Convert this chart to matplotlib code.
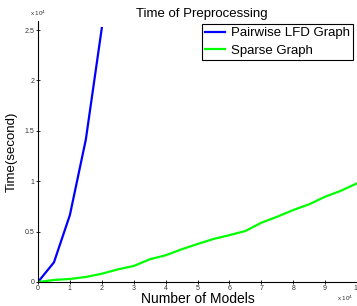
import numpy as np
import matplotlib
matplotlib.use('Agg')
import matplotlib.pyplot as plt

plt.rcParams['font.family'] = ['Liberation Sans', 'DejaVu Sans']

# number of models
lfd_models = [0, 5000, 10000, 15000, 20000]
sparse_models = [0, 5000, 10000, 15000, 20000, 25000, 30000, 35000, 40000, 45000, 50000,
                 55000, 60000, 65000, 70000, 75000, 80000, 85000, 90000, 95000, 100000]
# preprocessing time in seconds
lfd_time = [0, 1950, 6650, 14150, 25200]
sparse_time = [0, 200, 300, 500, 820, 1250, 1590, 2250, 2650, 3240, 3770,
               4270, 4650, 5060, 5880, 6480, 7140, 7710, 8460, 9060, 9790]

xticks = [0, 10000, 20000, 30000, 40000, 50000, 60000, 70000, 80000, 90000, 100000]
yticks = [0, 5000, 10000, 15000, 20000, 25000]

fig = plt.figure(figsize=(3.57, 3.06), dpi=100)
ax = fig.add_axes([38 / 357, 24 / 306, 319 / 357, 261 / 306])

ax.plot(lfd_models, lfd_time, color='#0000ff', lw=1.6, label='Pairwise LFD Graph')
ax.plot(sparse_models, sparse_time, color='#00ff00', lw=1.6, label='Sparse Graph')

ax.set_xlim(0, 100000)
ax.set_ylim(0, 25900)
ax.set_xticks(xticks)
ax.set_xticklabels(['%g' % (v / 1e4) for v in xticks])
ax.set_yticks(yticks)
ax.set_yticklabels(['%g' % (v / 1e4) for v in yticks])
ax.tick_params(labelsize=5, direction='inout', length=3, width=0.6,
               colors='black', labelcolor='#333333', pad=1)

for s in ['top', 'right']:
    ax.spines[s].set_visible(False)
for s in ['left', 'bottom']:
    ax.spines[s].set_linewidth(0.8)

ax.set_title('Time of Preprocessing', fontsize=9.5, pad=3, x=0.515)
ax.set_xlabel('Number of Models', fontsize=10, labelpad=0)
ax.set_ylabel('Time(second)', fontsize=9.5, labelpad=5)

ax.text(0, 1.01, r'x 10$^4$', transform=ax.transAxes, fontsize=4.5, color='#333333',
        ha='center', va='bottom')
ax.text(0.99, -0.045, r'x 10$^4$', transform=ax.transAxes, fontsize=4.5, color='#333333',
        ha='right', va='top')

leg = ax.legend(loc='upper right', bbox_to_anchor=(0.987, 0.989), fontsize=9.5,
                frameon=True, fancybox=False, edgecolor='black', framealpha=1,
                handlelength=1.5, borderpad=0.25, labelspacing=0.4, handletextpad=0.45,
                borderaxespad=0)
leg.get_frame().set_linewidth(0.8)

fig.savefig('out.png', dpi=100)
